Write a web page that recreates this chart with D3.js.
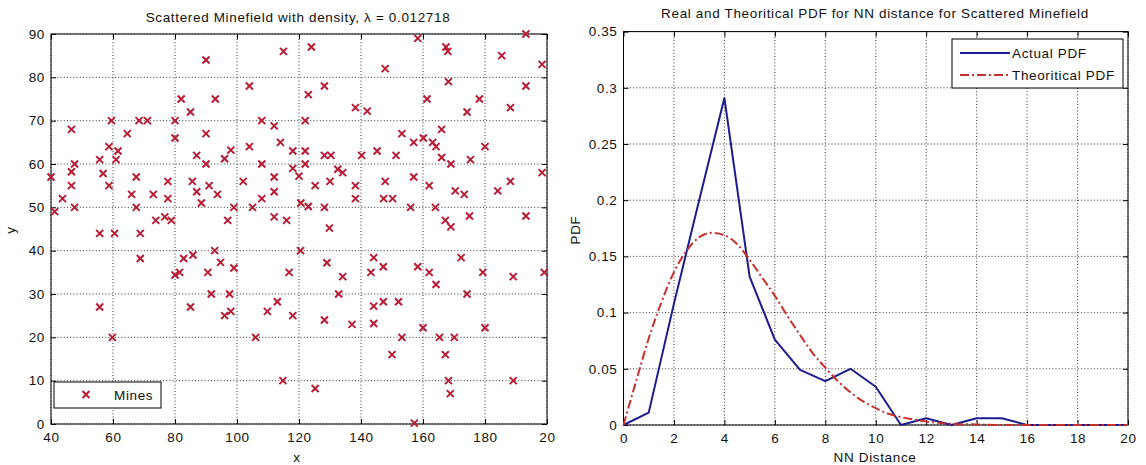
<!DOCTYPE html>
<html>
<head>
<meta charset="utf-8">
<script src="https://cdn.jsdelivr.net/npm/d3@7"></script>
<style>
  html, body { margin: 0; padding: 0; background: #fff; }
  svg text { font-family: "Liberation Sans", Arial, Helvetica, sans-serif; fill: #111; letter-spacing: 0.65px; }
</style>
</head>
<body>
<svg id="chart" width="1146" height="465"></svg>
<script>
// ---- Scattered minefield: mine positions ----
const mineX = [
  115, 90, 104, 82, 93, 85, 59.5, 68.4, 71.1, 80, 108, 112, 46.6, 64.6, 90, 80, 114, 58.7, 104, 118,
  61.6, 98, 87, 96, 55.7, 61, 47.6, 90, 108, 40, 46.6, 56.8, 67.5, 118, 112, 77.7, 85.6, 46.6, 58.7, 91,
  102, 87, 112, 66, 73, 93.7, 108, 43.7, 77.7, 67.5, 47.6, 88.5, 99, 105, 41.2, 73.8, 76.7, 78.8, 97, 112,
  116,
  124, 158.3, 167.4, 168, 193.2, 185.4, 198.4, 147.8, 128.2, 123, 168.2, 193.2, 161.3, 178.2, 138.2, 142, 174.2, 188.2, 122, 166,
  153.2, 160.1, 157, 163.1, 164.2, 180, 122, 145.2, 128.2, 130.3, 140.2, 151.3, 166, 169, 175.3, 122, 120, 132.5, 134.1, 198.4,
  157, 125.2, 130, 147.8, 138.2, 162, 188.2, 170.4, 173.3, 184.1, 138.2, 147.3, 150.2, 120.6, 123, 128.2, 156, 164, 175, 193.2,
  167.2, 169, 129.8,
  55.7, 60.5, 68.8, 68.8, 80, 81.5, 82.8, 85.8, 92.8, 90.6, 94.7, 99, 116.8, 91.7, 97.6, 55.7, 85, 96, 98, 109.8,
  113, 118, 59.8, 106, 114.8, 120.5,
  129, 134.1, 132.8, 144.1, 143.2, 147.2, 158.3, 162, 164.2, 172.3, 179.3, 189.1, 199.1, 174.2, 144.1, 147.2, 152.1, 128.2, 137.1, 144.1,
  160, 180, 153.2, 165.3, 170.1, 150, 167.2, 168.2, 189.1, 168.8, 125.2, 157.2
];
const mineY = [
  86, 84, 78, 75, 75, 72, 70, 70, 70, 70, 70, 68.8, 68, 67, 67, 66, 65, 64, 64, 63,
  63, 63.2, 62, 61.2, 61, 61, 60, 60, 60, 57, 58.2, 57.8, 57, 59, 57, 56, 56, 55, 55, 55,
  56, 53.6, 53.6, 53, 53, 53, 52, 52, 52, 50, 50, 51, 50, 50, 49, 47, 47.8, 47, 47, 47.8,
  47,
  87, 89, 87, 86, 90, 85, 83, 82, 78, 76, 79, 78, 75, 75, 73, 72.2, 72, 73, 70, 68,
  67, 66, 65, 65, 64, 64, 63, 63, 62, 62, 62, 62, 61.5, 60, 61, 60, 57.2, 58.8, 58, 58,
  57, 55, 56, 56, 55, 55, 56, 53.8, 53, 53.8, 52, 52, 52, 51, 50.2, 50, 50, 50, 48, 48,
  47, 45.5, 45.2,
  44, 44, 44, 38.2, 34.4, 35, 38.2, 39, 40, 35, 37.3, 36, 35, 30, 30, 27, 27, 25, 26, 26,
  28.2, 25, 20, 20, 10, 40,
  37.2, 34, 30, 38.4, 35, 36.3, 36.3, 35, 32.2, 38.4, 35, 34, 35, 30, 27.2, 28.2, 28.2, 24, 23, 23.2,
  22.2, 22.2, 20, 20, 20, 16, 16, 10, 10, 7, 8.2, 0.2
];
const mineXTicks = [40, 60, 80, 100, 120, 140, 160, 180, 200];
const mineXTickLabels = ["40", "60", "80", "100", "120", "140", "160", "180", "20"];
const mineYTicks = [0, 10, 20, 30, 40, 50, 60, 70, 80, 90];

// ---- Nearest-neighbour distance PDFs ----
const nnDistance = [0, 1, 2, 3, 4, 5, 6, 7, 8, 9, 10, 11, 12, 13, 14, 15, 16, 17, 18, 19, 20];
const actualPdf  = [0, 0.011, 0.108, 0.2, 0.291, 0.132, 0.076, 0.049, 0.039, 0.05, 0.034, 0, 0.006, 0, 0.006, 0.006, 0, 0, 0, 0, 0];
const theoDistance = [0, 0.5, 1, 1.5, 2, 2.5, 3, 3.5, 4, 4.5, 5, 5.5, 6, 6.5, 7, 7.5, 8, 8.5, 9, 9.5,
                      10, 10.5, 11, 11.5, 12, 12.5, 13, 14, 15, 16, 18, 20];
const theoPdf = [0, 0.039, 0.077, 0.109, 0.136, 0.155, 0.167, 0.171, 0.169, 0.161, 0.147, 0.131, 0.115, 0.097, 0.08, 0.064,
                 0.051, 0.039, 0.029, 0.021, 0.015, 0.01, 0.007, 0.005, 0.003, 0.002, 0.001, 0.0005, 0, 0, 0, 0];
const pdfXTicks = [0, 2, 4, 6, 8, 10, 12, 14, 16, 18, 20];
const pdfYTicks = [0, 0.05, 0.1, 0.15, 0.2, 0.25, 0.3, 0.35];
const pdfYTickLabels = ["0", "0.05", "0.1", "0.15", "0.2", "0.25", "0.3", "0.35"];

const svg = d3.select("#chart");
const FONT = 13.5;
const GRID = { stroke: "#333", dash: "1,2.2" };
const MINE_RED = "#b81c34";
const BLUE = "#1c1c8e";
const RED = "#c8302c";

// Draws box, dotted grid, inward ticks on all sides and labels.
function drawFrame(g, x, y, xt, xtl, yt, ytl) {
  const [x0, x1] = x.range();
  const [y0, y1] = y.range(); // y0 bottom, y1 top
  const grid = g.append("g");
  xt.forEach(v => {
    grid.append("line").attr("x1", x(v)).attr("x2", x(v)).attr("y1", y0).attr("y2", y1)
      .attr("stroke", GRID.stroke).attr("stroke-dasharray", GRID.dash).attr("stroke-width", 1);
  });
  yt.forEach(v => {
    grid.append("line").attr("x1", x0).attr("x2", x1).attr("y1", y(v)).attr("y2", y(v))
      .attr("stroke", GRID.stroke).attr("stroke-dasharray", GRID.dash).attr("stroke-width", 1);
  });

  const fmtX = (d, i) => xtl ? xtl[i] : String(d);
  const fmtY = (d, i) => ytl ? ytl[i] : String(d);

  const bottom = g.append("g").attr("transform", `translate(0,${y0})`)
    .call(d3.axisBottom(x).tickValues(xt).tickFormat(fmtX).tickSizeInner(-5).tickSizeOuter(0).tickPadding(8));
  const top = g.append("g").attr("transform", `translate(0,${y1})`)
    .call(d3.axisTop(x).tickValues(xt).tickFormat("").tickSizeInner(-5).tickSizeOuter(0));
  const left = g.append("g").attr("transform", `translate(${x0},0)`)
    .call(d3.axisLeft(y).tickValues(yt).tickFormat(fmtY).tickSizeInner(-5).tickSizeOuter(0).tickPadding(6));
  const right = g.append("g").attr("transform", `translate(${x1},0)`)
    .call(d3.axisRight(y).tickValues(yt).tickFormat("").tickSizeInner(-5).tickSizeOuter(0));
  [bottom, top, left, right].forEach(a => {
    a.select(".domain").remove();
    a.selectAll("line").attr("stroke", "#000");
    a.selectAll("text").attr("font-size", FONT).attr("fill", "#111")
      .attr("font-family", "'Liberation Sans', Arial, sans-serif");
  });
  bottom.selectAll("text").attr("dy", "0.71em");
  g.append("rect").attr("x", x0).attr("y", y1).attr("width", x1 - x0).attr("height", y0 - y1)
    .attr("fill", "none").attr("stroke", "#000").attr("stroke-width", 1);
}

// ---------- Left panel: minefield scatter ----------
const xM = d3.scaleLinear().domain([40, 200]).range([51, 547]);
const yM = d3.scaleLinear().domain([0, 90]).range([424, 34]);
const gL = svg.append("g");
drawFrame(gL, xM, yM, mineXTicks, mineXTickLabels, mineYTicks, null);

const cross = "M-3.5,-3.5L3.5,3.5M-3.5,3.5L3.5,-3.5";
gL.append("g").selectAll("path").data(d3.range(mineX.length)).join("path")
  .attr("d", cross)
  .attr("transform", i => `translate(${xM(mineX[i])},${yM(mineY[i])})`)
  .attr("stroke", MINE_RED).attr("stroke-width", 2).attr("fill", "none");

gL.append("text").attr("x", 298).attr("y", 22).attr("text-anchor", "middle").attr("font-size", FONT)
  .text("Scattered Minefield with density, \u03BB = 0.012718");
gL.append("text").attr("x", 297).attr("y", 462).attr("text-anchor", "middle").attr("font-size", FONT).text("x");
gL.append("text").attr("transform", "translate(15,230) rotate(-90)").attr("text-anchor", "middle")
  .attr("font-size", FONT).text("y");

// legend
const lgL = gL.append("g");
lgL.append("rect").attr("x", 54).attr("y", 382).attr("width", 107).attr("height", 26)
  .attr("fill", "#fff").attr("stroke", "#000");
lgL.append("path").attr("d", cross).attr("transform", "translate(86,394.5)")
  .attr("stroke", MINE_RED).attr("stroke-width", 2).attr("fill", "none");
lgL.append("text").attr("x", 114).attr("y", 399.5).attr("font-size", FONT).text("Mines");

// ---------- Right panel: NN distance PDFs ----------
const xP = d3.scaleLinear().domain([0, 20]).range([623.5, 1128]);
const yP = d3.scaleLinear().domain([0, 0.35]).range([425, 31.6]);
const gR = svg.append("g");
drawFrame(gR, xP, yP, pdfXTicks, null, pdfYTicks, pdfYTickLabels);

const lineTheo = d3.line().x((d, i) => xP(theoDistance[i])).y(d => yP(d)).curve(d3.curveMonotoneX);
const lineAct = d3.line().x((d, i) => xP(nnDistance[i])).y(d => yP(d));

gR.append("path").attr("d", lineAct(actualPdf)).attr("fill", "none")
  .attr("stroke", BLUE).attr("stroke-width", 2).attr("stroke-linejoin", "round");
gR.append("path").attr("d", lineTheo(theoPdf)).attr("fill", "none")
  .attr("stroke", RED).attr("stroke-width", 2).attr("stroke-dasharray", "9,3,2,3");

gR.append("text").attr("x", 875).attr("y", 18).attr("text-anchor", "middle").attr("font-size", FONT)
  .text("Real and Theoritical PDF for NN distance for Scattered Minefield");
gR.append("text").attr("x", 875).attr("y", 462).attr("text-anchor", "middle").attr("font-size", FONT)
  .text("NN Distance");
gR.append("text").attr("transform", "translate(580,230) rotate(-90)").attr("text-anchor", "middle")
  .attr("font-size", FONT).text("PDF");

const lgR = gR.append("g");
lgR.append("rect").attr("x", 952).attr("y", 39).attr("width", 171).attr("height", 49)
  .attr("fill", "#fff").attr("stroke", "#000");
lgR.append("line").attr("x1", 960).attr("x2", 1010).attr("y1", 53).attr("y2", 53)
  .attr("stroke", BLUE).attr("stroke-width", 2);
lgR.append("line").attr("x1", 960).attr("x2", 1010).attr("y1", 75).attr("y2", 75)
  .attr("stroke", RED).attr("stroke-width", 2).attr("stroke-dasharray", "9,3,2,3");
lgR.append("text").attr("x", 1012).attr("y", 58).attr("font-size", FONT).text("Actual PDF");
lgR.append("text").attr("x", 1012).attr("y", 80).attr("font-size", FONT).text("Theoritical PDF");
</script>
</body>
</html>
